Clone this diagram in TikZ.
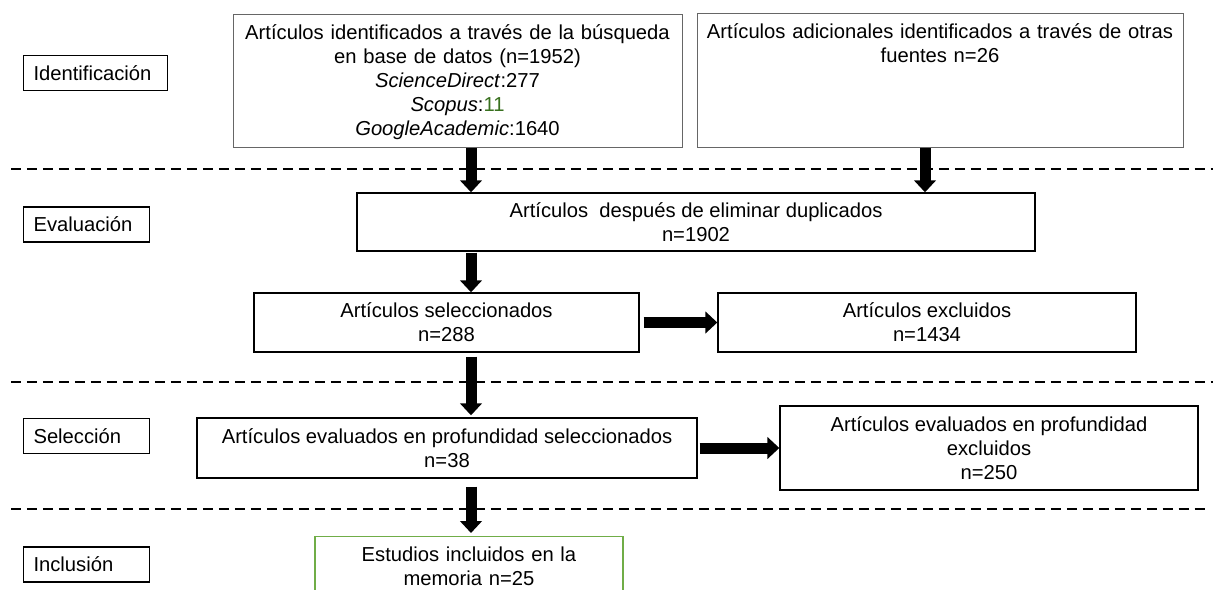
\documentclass[tikz,border=0pt]{standalone}
\usepackage{fontspec}
\setmainfont{Liberation Sans}
\usetikzlibrary{arrows.meta}
\definecolor{verdeoscuro}{RGB}{56,112,30}
\definecolor{verdecaja}{RGB}{112,173,71}
\tikzset{
	fase/.style={draw, line width=0.6pt, anchor=west, inner xsep=0.2cm, minimum height=0.7cm, align=left},
	caja/.style={draw, line width=0.8pt, align=center},
	cajaalta/.style={draw=black!60, line width=0.5pt, align=center, anchor=north, inner xsep=0pt, inner ysep=0pt, text height=0.5cm},
	flecha/.style={line width=0.22cm, -{Triangle[width=0.43cm,length=0.24cm]}},
	division/.style={line width=0.7pt, dash pattern=on 0.2cm off 0.12cm}
}
\newcommand{\Fase}[4][2.12cm]{\node[fase, text width=#1] (#2) at (#3) {#4};}

\begin{document}
\begin{tikzpicture}[x=0.02cm, y=-0.02cm, font=\fontsize{11.5}{13.7}\selectfont]
\useasboundingbox (0,0) rectangle (1215,589);

	\Fase[2.48cm]{ident}{23,73}{Identificación}
	\Fase{eval}{23,224.5}{Evaluación}
	\Fase{selec}{23,436}{Selección}
	\Fase{incl}{23,564.5}{Inclusión}

	\draw[division] (11,169) -- (1213,169);
	\draw[division] (11,382) -- (1213,382);
	\draw[division] (11,509) -- (1210,509);

	\node[cajaalta, text width=8.98cm, text depth=2.16cm] (bases) at (457.5,14) {Artículos identificados a través de la búsqueda\\en base de datos (n=1952)\\\textit{ScienceDirect}:277\\\textit{Scopus}:\textcolor{verdeoscuro}{11}\\\textit{GoogleAcademic}:1640};
	\node[cajaalta, text width=9.72cm, text depth=2.18cm] (otras) at (940,13) {Artículos adicionales identificados a través de otras\\fuentes n=26};

	\node[caja, minimum width=13.56cm, minimum height=1.16cm] (sindup) at (696,222) {Artículos\ \ después de eliminar duplicados\\n=1902};
	\node[caja, minimum width=7.7cm, minimum height=1.18cm] (selecc) at (446.5,322.5) {Artículos seleccionados\\n=288};
	\node[caja, minimum width=8.36cm, minimum height=1.18cm] (excl) at (927,322.5) {Artículos excluidos\\n=1434};
	\node[caja, minimum width=10cm, minimum height=1.2cm] (profsel) at (447,448) {Artículos evaluados en profundidad seleccionados\\n=38};
	\node[caja, minimum width=8.36cm, minimum height=1.68cm] (profexc) at (989,448) {Artículos evaluados en profundidad\\excluidos\\n=250};
	\node[cajaalta, draw=verdecaja, line width=0.8pt, text width=6.16cm, text depth=0.9cm] (memoria) at (469,536) {Estudios incluidos en la\\memoria n=25};

	\coordinate (eje) at (471,0);
	\coordinate (eje2) at (925,0);

	\draw[flecha] (bases.south -| eje) -- (sindup.north -| eje);
	\draw[flecha] (otras.south -| eje2) -- (sindup.north -| eje2);
	\draw[flecha, shorten <=0.02cm] (sindup.south -| eje) -- (selecc.north -| eje);
	\draw[flecha, shorten <=0.08cm] (selecc.east) -- (excl.west);
	\draw[flecha, shorten <=0.08cm, shorten >=0.04cm] (selecc.south -| eje) -- (profsel.north -| eje);
	\draw[flecha, shorten <=0.04cm] (profsel.east) -- (profexc.west);
	\draw[flecha, shorten <=0.16cm, shorten >=0.06cm] (profsel.south -| eje) -- (memoria.north -| eje);

\end{tikzpicture}
\end{document}
